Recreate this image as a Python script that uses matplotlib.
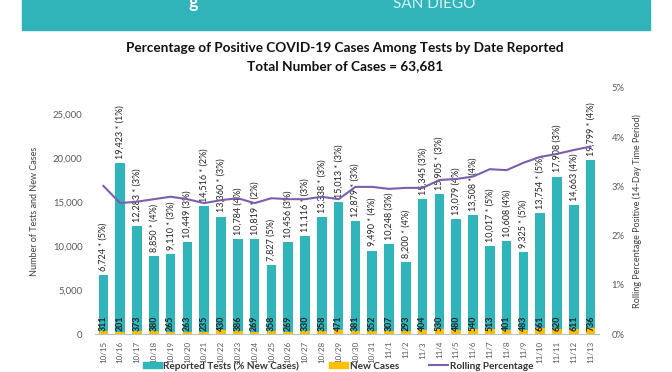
import matplotlib.pyplot as plt
from matplotlib.patches import Rectangle
from matplotlib.lines import Line2D
from matplotlib.patches import Patch

plt.rcParams['font.family'] = ['Lato', 'DejaVu Sans']

dates = ['10/15', '10/16', '10/17', '10/18', '10/19', '10/20', '10/21', '10/22',
         '10/23', '10/24', '10/25', '10/26', '10/27', '10/28', '10/29', '10/30',
         '10/31', '11/1', '11/2', '11/3', '11/4', '11/5', '11/6', '11/7', '11/8',
         '11/9', '11/10', '11/11', '11/12', '11/13']
tests = [6724, 19423, 12283, 8850, 9110, 10449, 14516, 13360, 10784, 10819,
         7827, 10456, 11116, 13338, 15013, 12879, 9490, 10248, 8200, 15345,
         15905, 13079, 13508, 10017, 10608, 9325, 13754, 17908, 14663, 19799]
starred = [1, 1, 1, 1, 1, 0, 1, 1, 0, 1,
           0, 0, 1, 1, 1, 1, 1, 0, 1, 0,
           1, 0, 1, 1, 0, 1, 1, 0, 0, 1]
pct_new = [5, 1, 3, 4, 3, 3, 2, 3, 4, 2, 5, 3, 3, 3, 3, 3, 4, 3, 4, 3,
           3, 4, 4, 5, 4, 5, 5, 3, 4, 4]
new_cases = [311, 201, 373, 380, 265, 263, 235, 430, 386, 269, 358, 269, 330,
             358, 471, 381, 352, 307, 293, 404, 530, 480, 540, 513, 401, 483,
             661, 620, 611, 736]
rolling = [3.01, 2.66, 2.69, 2.74, 2.79, 2.74, 2.66, 2.72, 2.76, 2.66,
           2.76, 2.74, 2.74, 2.79, 2.74, 2.99, 2.99, 2.95, 2.97, 2.97,
           3.13, 3.15, 3.20, 3.35, 3.33, 3.48, 3.60, 3.66, 3.74, 3.81]

teal = '#2fb5ba'
orange = '#ffc000'
purple = '#7b5fae'
grey = '#595959'

fig = plt.figure(figsize=(6.72, 3.72), dpi=100)

# banner at the top (cut off in the reference too)
fig.patches.append(Rectangle((22 / 672, 1 - 30 / 372), 628 / 672, 30 / 372,
                             transform=fig.transFigure, color='#30b3b9', zorder=0))
fig.text(0.28, 0.992, 'g', color='white', fontsize=13, fontweight='bold', va='center')
fig.text(0.585, 0.99, 'SAN DIEGO', color='#d8f0f0', fontsize=11, va='center')

fig.text(0.513, 0.872, 'Percentage of Positive COVID-19 Cases Among Tests by Date Reported',
         ha='center', va='center', fontsize=9.8, fontweight='bold', color='#111111')
fig.text(0.513, 0.822, 'Total Number of Cases = 63,681',
         ha='center', va='center', fontsize=9.8, fontweight='bold', color='#111111')

ax = fig.add_axes([95 / 672, 38 / 372, 504 / 672, 246 / 372])
x = list(range(len(dates)))
ax.bar(x, tests, width=0.58, color=teal, zorder=2)
ax.bar(x, new_cases, width=0.58, color=orange, zorder=3)

for i in x:
    star = ' * ' if starred[i] else ' '
    ax.annotate(f'{tests[i]:,}{star}({pct_new[i]}%)', (i, tests[i]),
                xytext=(0, 3), textcoords='offset points', rotation=90,
                ha='center', va='bottom', fontsize=6.5, color='#222222')
    ax.annotate(f'{new_cases[i]}', (i, 0), xytext=(0, 2), textcoords='offset points',
                rotation=90, ha='center', va='bottom', fontsize=6.3,
                fontweight='bold', color='#222222', zorder=4)

ax.set_xlim(-0.5, len(dates) - 0.5)
ax.set_ylim(0, 28000)
ax.set_yticks([0, 5000, 10000, 15000, 20000, 25000])
ax.set_yticklabels(['0', '5,000', '10,000', '15,000', '20,000', '25,000'])
ax.set_xticks(x)
ax.set_xticklabels(dates, rotation=90)
ax.tick_params(axis='y', length=0, labelsize=6.8, colors=grey, pad=9)
ax.tick_params(axis='x', length=0, labelsize=5.8, colors=grey, pad=5)
for s in ['top', 'right', 'left']:
    ax.spines[s].set_visible(False)
ax.spines['bottom'].set_color('#bfbfbf')
ax.set_ylabel('Number of Tests and New Cases', fontsize=6.5, color='#404040', labelpad=10)

ax2 = ax.twinx()
ax2.plot(x, [r / 100 for r in rolling], color=purple, linewidth=1.5, zorder=5)
ax2.set_ylim(0, 0.05)
ax2.set_yticks([0, 0.01, 0.02, 0.03, 0.04, 0.05])
ax2.set_yticklabels(['0%', '1%', '2%', '3%', '4%', '5%'])
ax2.tick_params(axis='y', length=0, labelsize=6.8, colors=grey, pad=9)
for s in ['top', 'right', 'left', 'bottom']:
    ax2.spines[s].set_visible(False)
ax2.set_ylabel('Rolling Percentage Positive (14-Day Time Period)', fontsize=6.5,
               color='#404040', labelpad=6)

handles = [Patch(color=teal), Patch(color=orange), Line2D([], [], color=purple, lw=1.5)]
labels = ['Reported Tests (% New Cases)', 'New Cases', 'Rolling Percentage']
leg = fig.legend(handles, labels, loc='center', bbox_to_anchor=(0.503, 0.016), ncol=3,
                 frameon=False, prop={'size': 7.2, 'weight': 'bold'},
                 columnspacing=3.0, handlelength=1.9, handleheight=0.6,
                 handletextpad=0.15)
for t in leg.get_texts():
    t.set_color('#333333')

fig.savefig('out.png', dpi=100)
